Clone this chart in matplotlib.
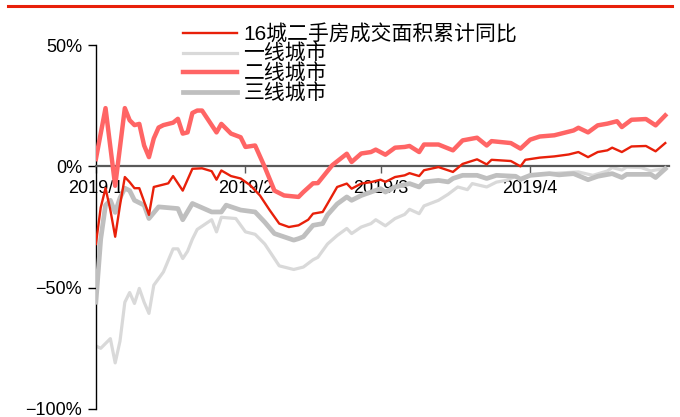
import matplotlib
matplotlib.use("Agg")
import matplotlib.pyplot as plt
from matplotlib.lines import Line2D

plt.rcParams['font.family'] = ['Liberation Sans', 'Noto Sans CJK SC', 'DejaVu Sans']

# days since 2019-01-01
tick_days = [0, 31, 59, 90]
tick_labels = ['2019/1', '2019/2', '2019/3', '2019/4']

# 16城二手房成交面积累计同比 (%)
d_all = [0, 1, 2, 3, 4, 5, 6, 7, 8, 9, 11, 12, 15, 16, 18, 20, 22, 24, 25, 26,
         28, 30, 32, 34, 36, 38, 40, 42, 44, 45, 47, 48, 50, 52, 53, 55, 57, 59,
         60, 62, 64, 65, 67, 68, 71, 74, 76, 79, 81, 82, 86, 88, 89, 92, 95, 98,
         100, 102, 104, 106, 107, 109, 111, 114, 116, 118]
v_all = [-32, -17, -9, -18, -29, -16, -4.4, -6.5, -9, -9, -20, -8.5, -7, -4, -10, -1, -0.8, -2, -5.5, -1.7,
         -4, -5, -7.8, -12, -18, -23.6, -25, -24.3, -22, -19.5, -18.8, -15.4, -8.5, -7.1, -9.2, -7.1, -6.5, -5.5,
         -6.4, -4.4, -3.7, -2.8, -4, -1.6, -0.3, -2.3, 1, 2.9, 0.8, 2.7, 2.2, 0, 2.7, 3.6, 4.1, 4.9,
         5.9, 3.8, 5.9, 6.6, 7.7, 5.9, 8.2, 8.4, 6.2, 9.6]

# 一线城市
d_t1 = [0, 1, 3, 4, 5, 6, 7, 8, 9, 10, 11, 12, 14, 16, 17, 18, 19, 20, 21, 24,
        25, 26, 29, 31, 33, 35, 38, 41, 43, 45, 46, 48, 50, 52, 53, 55, 57, 58,
        60, 62, 64, 65, 67, 68, 71, 73, 75, 77, 78, 81, 83, 85, 87, 88, 90, 94,
        100, 103, 106, 107, 109, 110, 113, 115, 116, 118]
v_t1 = [-74, -75, -71, -81, -72, -56, -52, -56.5, -50.3, -56, -60.6, -49, -43.5, -34, -34, -38, -35, -30, -26, -22,
        -27, -21, -21.5, -27, -28, -32, -41, -42.5, -41.5, -38.5, -37.5, -32, -28.5, -25.6, -27.7, -25, -23.6, -22,
        -24.5, -21.5, -19.8, -17.7, -19.5, -16.3, -14, -11.5, -8.5, -9.6, -7.1, -8.5, -6.5, -5.8, -4.1, -5.8, -3.7, -3,
        -2.3, -3.7, -1.9, -0.5, -1.5, -0.3, -0.5, -1.9, -1.5, -1]

# 二线城市
d_t2 = [0, 2, 4, 6, 7, 8, 9, 10, 11, 12, 13, 14, 16, 17, 18, 19, 20, 21, 22, 23,
        25, 26, 28, 30, 31, 33, 35, 37, 39, 42, 43, 45, 46, 49, 52, 53, 55, 57,
        58, 60, 62, 64, 65, 67, 68, 71, 74, 76, 79, 81, 82, 86, 88, 90, 92, 95,
        99, 100, 102, 104, 106, 108, 109, 111, 114, 116, 118]
v_t2 = [3, 24, -8, 24, 19, 17, 17.5, 8.6, 3.8, 11.5, 16, 17, 18, 19.6, 13.5, 14, 22, 23, 23, 20,
        14, 17.5, 13.5, 12, 8, 8.6, -0.3, -10, -12, -12.6, -10.6, -7, -6.9, 0.5, 5.2, 1.8, 5.3, 5.9,
        6.9, 4.8, 7.7, 8, 8.4, 5.9, 9, 9, 6.6, 10.7, 11.8, 8.6, 10.4, 9.6, 7.3, 11, 12.3, 12.8,
        14.8, 15.9, 14, 16.9, 17.6, 18.6, 16.2, 19.2, 19.5, 16.9, 21]

# 三线城市
d_t3 = [0, 1, 2, 3, 4, 5, 6, 7, 8, 10, 11, 13, 17, 18, 20, 24, 26, 27, 30, 33,
        35, 37, 41, 42, 43, 45, 47, 48, 50, 52, 53, 55, 57, 59, 60, 62, 65, 67,
        68, 71, 73, 74, 76, 79, 81, 83, 87, 88, 90, 94, 96, 99, 102, 104, 107, 109,
        110, 115, 116, 118]
v_t3 = [-56, -30, -16, -14, -19, -13, -9, -10, -14, -16, -21.5, -16.7, -17.4, -22, -15.3, -18.8, -18.8, -16, -18, -18.8,
        -23, -27.7, -30.4, -29.8, -29, -24.3, -23.6, -20, -15.5, -12.6, -14, -12, -10.6, -9.2, -10.6, -8.5, -7.1, -8.5,
        -6.4, -5.8, -6.4, -5, -3.7, -3.7, -5, -3.7, -4.1, -5.3, -3.7, -3, -3.5, -3, -5.5, -4.1, -3, -4.6,
        -3.3, -3.3, -4.6, -1]

fig = plt.figure(figsize=(6.8, 4.17), dpi=100)
ax = fig.add_axes([0.141, 0.0192, 0.843, 0.8728])

ax.plot(d_all, v_all, color='#E8200A', lw=1.7, label='16城二手房成交面积累计同比', zorder=5)
ax.plot(d_t1, v_t1, color='#D9D9D9', lw=2.3, label='一线城市', zorder=2)
ax.plot(d_t2, v_t2, color='#FF6565', lw=3.2, label='二线城市', zorder=4)
ax.plot(d_t3, v_t3, color='#BFBFBF', lw=3.4, label='三线城市', zorder=3)

for s in ['top', 'right']:
    ax.spines[s].set_visible(False)
# moving the spine resets the ticks, so do it before setting them
ax.spines['bottom'].set_position(('data', 0))
ax.spines['bottom'].set_color('#595959')
ax.spines['bottom'].set_linewidth(1.6)
ax.spines['left'].set_color('black')
ax.spines['left'].set_linewidth(1.0)

ax.set_xlim(0, 118.8)
ax.set_ylim(-100, 50)
ax.set_yticks([50, 0, -50, -100])
ax.set_yticklabels(['50%', '0%', '\u221250%', '\u2212100%'], fontsize=13)
ax.set_xticks(tick_days)
ax.set_xticklabels(tick_labels, fontsize=13)
ax.tick_params(axis='x', direction='out', length=5, width=1, color='#595959', pad=5)
ax.tick_params(axis='y', direction='out', length=6, width=1, pad=4)

leg = ax.legend(loc='upper left', bbox_to_anchor=(0.134, 1.085), frameon=False,
                prop={'family': ['Liberation Sans', 'Noto Sans CJK SC'], 'size': 15},
                handlelength=2.6, handletextpad=0.3, labelspacing=-0.02, borderpad=0)

# red rule across the top
fig.add_artist(Line2D([0.012, 0.988], [0.985, 0.985], color='#E8200A', lw=2.2))

fig.savefig('out.png', dpi=100)
